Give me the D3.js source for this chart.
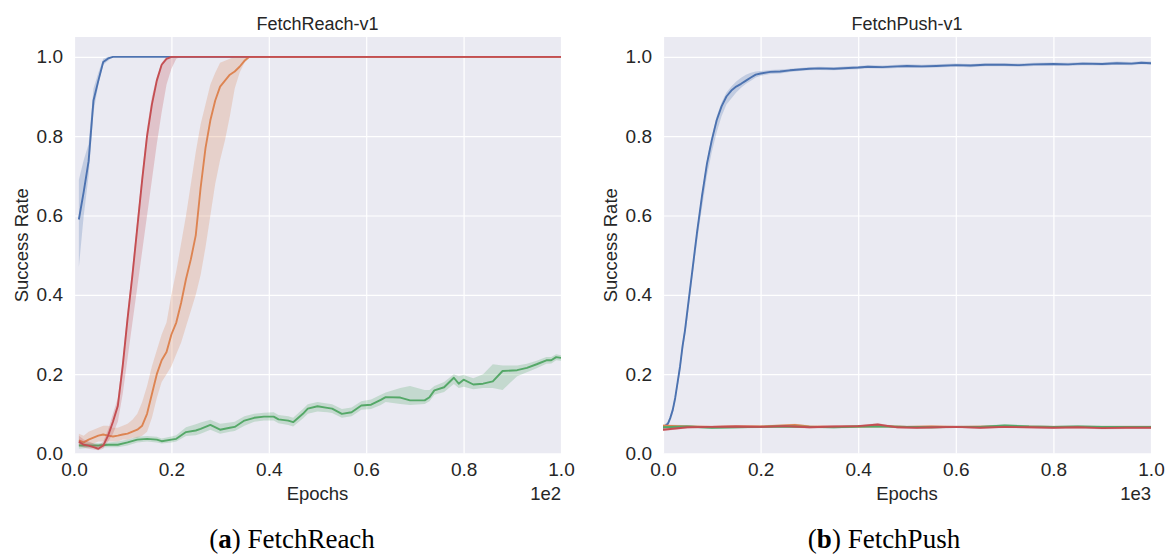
<!DOCTYPE html>
<html>
<head>
<meta charset="utf-8">
<script src="https://cdn.jsdelivr.net/npm/d3@7"></script>
<style>
  body { margin: 0; background: #fff; }
  text { font-family: "Liberation Sans", Arial, sans-serif; fill: #262626; }
</style>
</head>
<body>
<div id="chart"></div>
<script>
// rows are [epoch, mean, low, high]

// --- FetchReach-v1 (epochs, axis shown as x1e2) ---
const reachBlue = [
  [1, 0.59, 0.47, 0.69], [2, 0.66, 0.60, 0.74], [3, 0.737, 0.70, 0.78], [4, 0.89, 0.86, 0.92],
  [5, 0.94, 0.93, 0.96], [6, 0.987, 0.98, 0.995], [7, 0.996, 0.99, 1.0], [8, 1.0, 1.0, 1.0],
  [100, 1.0, 1.0, 1.0]
];
const reachOrange = [
  [1, 0.033, 0.02, 0.05], [2, 0.028, 0.02, 0.045], [3, 0.035, 0.02, 0.055], [4, 0.04, 0.025, 0.06],
  [5, 0.045, 0.03, 0.065], [6, 0.048, 0.03, 0.07], [7, 0.045, 0.03, 0.07], [8, 0.043, 0.03, 0.065],
  [9, 0.045, 0.03, 0.065], [10, 0.048, 0.035, 0.07], [11, 0.05, 0.035, 0.075], [12, 0.055, 0.04, 0.085],
  [13, 0.06, 0.04, 0.10], [14, 0.07, 0.045, 0.13], [15, 0.10, 0.055, 0.17], [16, 0.15, 0.09, 0.22],
  [17, 0.20, 0.14, 0.26], [18, 0.235, 0.18, 0.30], [19, 0.256, 0.20, 0.33], [20, 0.30, 0.22, 0.40],
  [21, 0.33, 0.25, 0.46], [22, 0.38, 0.28, 0.53], [23, 0.44, 0.32, 0.60], [24, 0.49, 0.36, 0.68],
  [25, 0.55, 0.40, 0.76], [26, 0.67, 0.45, 0.83], [27, 0.77, 0.52, 0.88], [28, 0.84, 0.60, 0.93],
  [29, 0.89, 0.68, 0.96], [30, 0.925, 0.74, 0.985], [31, 0.94, 0.79, 0.99], [32, 0.955, 0.85, 0.995],
  [33, 0.963, 0.92, 1.0], [34, 0.975, 0.96, 1.0], [35, 0.99, 0.985, 1.0], [36, 1.0, 0.998, 1.0],
  [37, 1.0, 1.0, 1.0], [100, 1.0, 1.0, 1.0]
];
const reachGreen = [
  [1, 0.02, 0.012, 0.028], [3, 0.02, 0.014, 0.027], [5, 0.02, 0.015, 0.026], [7, 0.022, 0.016, 0.028],
  [9, 0.022, 0.016, 0.03], [11, 0.028, 0.02, 0.035], [13, 0.035, 0.028, 0.042], [15, 0.037, 0.03, 0.044],
  [17, 0.035, 0.028, 0.042], [18, 0.031, 0.025, 0.038], [20, 0.035, 0.028, 0.043], [21, 0.037, 0.03, 0.046],
  [23, 0.054, 0.044, 0.066], [25, 0.058, 0.046, 0.074], [26, 0.062, 0.05, 0.078], [28, 0.072, 0.06, 0.085],
  [30, 0.06, 0.05, 0.075], [32, 0.065, 0.055, 0.078], [33, 0.067, 0.057, 0.08], [35, 0.083, 0.07, 0.094],
  [37, 0.09, 0.08, 0.10], [39, 0.093, 0.083, 0.103], [41, 0.093, 0.083, 0.104], [42, 0.086, 0.076, 0.097],
  [44, 0.083, 0.072, 0.094], [45, 0.079, 0.068, 0.09], [47, 0.10, 0.088, 0.112], [48, 0.113, 0.1, 0.124],
  [50, 0.119, 0.106, 0.13], [52, 0.115, 0.104, 0.126], [53, 0.113, 0.102, 0.124], [55, 0.10, 0.09, 0.112],
  [57, 0.104, 0.094, 0.116], [59, 0.121, 0.11, 0.132], [61, 0.123, 0.112, 0.136], [63, 0.135, 0.122, 0.148],
  [64, 0.142, 0.13, 0.154], [67, 0.141, 0.125, 0.165], [69, 0.134, 0.122, 0.17], [72, 0.134, 0.125, 0.16],
  [73, 0.142, 0.132, 0.16], [74, 0.159, 0.148, 0.17], [76, 0.167, 0.155, 0.18], [78, 0.191, 0.175, 0.2],
  [79, 0.176, 0.165, 0.195], [80, 0.186, 0.168, 0.198], [82, 0.174, 0.162, 0.19], [84, 0.176, 0.165, 0.2],
  [86, 0.182, 0.165, 0.225], [88, 0.208, 0.16, 0.222], [91, 0.21, 0.195, 0.222], [93, 0.216, 0.205, 0.226],
  [95, 0.225, 0.215, 0.234], [97, 0.235, 0.226, 0.243], [98, 0.235, 0.227, 0.243], [99, 0.243, 0.235, 0.25],
  [100, 0.241, 0.234, 0.248]
];
const reachRed = [
  [1, 0.03, 0.02, 0.045], [2, 0.022, 0.015, 0.035], [3, 0.02, 0.012, 0.03], [4, 0.016, 0.01, 0.025],
  [5, 0.012, 0.008, 0.02], [6, 0.02, 0.012, 0.03], [7, 0.045, 0.03, 0.06], [8, 0.08, 0.05, 0.10],
  [9, 0.12, 0.08, 0.14], [10, 0.22, 0.15, 0.24], [11, 0.34, 0.24, 0.36], [12, 0.45, 0.33, 0.47],
  [13, 0.57, 0.42, 0.59], [14, 0.69, 0.51, 0.71], [15, 0.80, 0.60, 0.82], [16, 0.88, 0.69, 0.90],
  [17, 0.94, 0.78, 0.95], [18, 0.98, 0.86, 0.985], [19, 0.995, 0.93, 1.0], [20, 1.0, 0.97, 1.0],
  [21, 1.0, 0.995, 1.0], [22, 1.0, 1.0, 1.0], [100, 1.0, 1.0, 1.0]
];

// --- FetchPush-v1 (epochs, axis shown as x1e3) ---
const pushBlue = [
  [0, 0.065, 0.06, 0.07], [5, 0.07, 0.065, 0.075], [10, 0.075, 0.07, 0.08], [15, 0.09, 0.082, 0.096],
  [20, 0.11, 0.10, 0.118], [25, 0.14, 0.13, 0.15], [30, 0.18, 0.168, 0.19], [35, 0.22, 0.205, 0.232],
  [40, 0.27, 0.255, 0.28], [45, 0.31, 0.295, 0.32], [50, 0.36, 0.34, 0.37], [55, 0.41, 0.39, 0.42],
  [60, 0.46, 0.44, 0.47], [65, 0.51, 0.49, 0.52], [70, 0.56, 0.535, 0.57], [75, 0.605, 0.58, 0.615],
  [80, 0.65, 0.62, 0.66], [85, 0.69, 0.66, 0.70], [90, 0.73, 0.70, 0.74], [95, 0.76, 0.73, 0.77],
  [100, 0.79, 0.76, 0.80], [110, 0.84, 0.81, 0.85], [120, 0.875, 0.85, 0.885], [130, 0.90, 0.88, 0.91],
  [140, 0.915, 0.895, 0.925], [150, 0.925, 0.91, 0.938], [160, 0.932, 0.922, 0.947], [170, 0.94, 0.932, 0.955],
  [180, 0.948, 0.94, 0.96], [190, 0.955, 0.948, 0.963], [200, 0.958, 0.952, 0.964], [220, 0.962, 0.957, 0.967],
  [240, 0.963, 0.958, 0.968], [260, 0.966, 0.962, 0.97], [280, 0.968, 0.964, 0.972], [300, 0.97, 0.966, 0.974],
  [320, 0.971, 0.967, 0.975], [350, 0.97, 0.966, 0.974], [380, 0.972, 0.968, 0.976], [400, 0.973, 0.969, 0.977],
  [420, 0.975, 0.971, 0.979], [450, 0.974, 0.97, 0.978], [480, 0.976, 0.972, 0.98], [500, 0.977, 0.973, 0.981],
  [530, 0.976, 0.972, 0.98], [560, 0.977, 0.973, 0.981], [600, 0.979, 0.975, 0.983], [630, 0.978, 0.974, 0.982],
  [660, 0.98, 0.976, 0.984], [700, 0.98, 0.976, 0.984], [730, 0.979, 0.975, 0.983], [760, 0.981, 0.977, 0.985],
  [800, 0.982, 0.978, 0.986], [830, 0.981, 0.977, 0.985], [860, 0.983, 0.979, 0.987], [900, 0.982, 0.978, 0.986],
  [930, 0.984, 0.98, 0.988], [960, 0.983, 0.979, 0.987], [980, 0.985, 0.981, 0.989], [1000, 0.984, 0.98, 0.988]
];
const pushOrange = [
  [0, 0.07, 0.066, 0.074], [50, 0.068, 0.065, 0.071], [100, 0.067, 0.064, 0.07], [150, 0.068, 0.065, 0.071],
  [200, 0.068, 0.065, 0.071], [270, 0.072, 0.068, 0.075], [300, 0.068, 0.065, 0.071], [350, 0.067, 0.064, 0.07],
  [400, 0.068, 0.065, 0.071], [450, 0.069, 0.066, 0.072], [500, 0.067, 0.064, 0.07], [550, 0.068, 0.065, 0.071],
  [600, 0.067, 0.064, 0.07], [700, 0.068, 0.065, 0.071], [800, 0.067, 0.064, 0.07], [900, 0.067, 0.064, 0.07],
  [1000, 0.067, 0.064, 0.07]
];
const pushGreen = [
  [0, 0.066, 0.063, 0.069], [50, 0.068, 0.065, 0.071], [100, 0.065, 0.062, 0.068], [150, 0.066, 0.063, 0.069],
  [200, 0.067, 0.064, 0.07], [250, 0.068, 0.065, 0.071], [300, 0.067, 0.064, 0.07], [350, 0.066, 0.063, 0.069],
  [400, 0.068, 0.065, 0.071], [450, 0.068, 0.065, 0.071], [500, 0.067, 0.064, 0.07], [550, 0.066, 0.063, 0.069],
  [600, 0.067, 0.064, 0.07], [650, 0.067, 0.064, 0.07], [700, 0.071, 0.068, 0.074], [750, 0.068, 0.065, 0.071],
  [800, 0.067, 0.064, 0.07], [850, 0.068, 0.065, 0.071], [900, 0.067, 0.064, 0.07], [950, 0.067, 0.064, 0.07],
  [1000, 0.067, 0.064, 0.07]
];
const pushRed = [
  [0, 0.06, 0.057, 0.063], [50, 0.066, 0.063, 0.069], [100, 0.067, 0.064, 0.07], [150, 0.068, 0.065, 0.071],
  [200, 0.067, 0.064, 0.07], [250, 0.069, 0.066, 0.072], [300, 0.066, 0.063, 0.069], [350, 0.068, 0.065, 0.071],
  [400, 0.069, 0.066, 0.072], [440, 0.073, 0.07, 0.076], [480, 0.066, 0.063, 0.069], [520, 0.065, 0.062, 0.068],
  [560, 0.066, 0.063, 0.069], [600, 0.067, 0.064, 0.07], [650, 0.065, 0.062, 0.068], [700, 0.067, 0.064, 0.07],
  [750, 0.066, 0.063, 0.069], [800, 0.065, 0.062, 0.068], [850, 0.066, 0.063, 0.069], [900, 0.064, 0.061, 0.067],
  [950, 0.065, 0.062, 0.068], [1000, 0.065, 0.062, 0.068]
];

const xTickLabels = [0, 0.2, 0.4, 0.6, 0.8, 1.0];
const yTicks = [0, 0.2, 0.4, 0.6, 0.8, 1.0];
const palette = ["#4C72B0", "#DD8452", "#55A868", "#C44E52"];

const panels = [
  { title: "FetchReach-v1", maxEpoch: 100, expo: "1e2", tag: "a", name: " FetchReach",
    left: 74, right: 561, capX: 292, series: [reachBlue, reachOrange, reachGreen, reachRed] },
  { title: "FetchPush-v1", maxEpoch: 1000, expo: "1e3", tag: "b", name: " FetchPush",
    left: 663, right: 1151, capX: 884, series: [pushBlue, pushOrange, pushGreen, pushRed] }
];

const width = 1171, height = 555;
const plotTop = 37, plotBottom = 453.5;

const svg = d3.select("#chart").append("svg")
  .attr("width", width)
  .attr("height", height);

const y = d3.scaleLinear().domain([0, 1.05]).range([plotBottom, plotTop]);

panels.forEach((p, pi) => {
  const x = d3.scaleLinear().domain([0, p.maxEpoch]).range([p.left, p.right]);
  const g = svg.append("g");

  g.append("rect")
    .attr("x", p.left).attr("y", plotTop)
    .attr("width", p.right - p.left).attr("height", plotBottom - plotTop)
    .attr("fill", "#EAEAF2");

  g.append("clipPath").attr("id", "clip" + pi)
    .append("rect")
    .attr("x", p.left).attr("y", plotTop)
    .attr("width", p.right - p.left).attr("height", plotBottom - plotTop);

  // grid
  const xTickVals = xTickLabels.map(t => t * p.maxEpoch);
  g.append("g")
    .attr("transform", `translate(0,${plotBottom})`)
    .call(d3.axisBottom(x).tickValues(xTickVals).tickSize(-(plotBottom - plotTop)).tickFormat(""))
    .call(a => a.select(".domain").remove())
    .call(a => a.selectAll("line").attr("stroke", "#fff").attr("stroke-width", 1.2));
  g.append("g")
    .attr("transform", `translate(${p.left},0)`)
    .call(d3.axisLeft(y).tickValues(yTicks).tickSize(-(p.right - p.left)).tickFormat(""))
    .call(a => a.select(".domain").remove())
    .call(a => a.selectAll("line").attr("stroke", "#fff").attr("stroke-width", 1.2));

  // tick labels
  g.append("g")
    .attr("transform", `translate(0,${plotBottom})`)
    .call(d3.axisBottom(x).tickValues(xTickVals).tickSize(0).tickPadding(9)
      .tickFormat(d => d3.format(".1f")(d / p.maxEpoch)))
    .call(a => a.select(".domain").remove())
    .call(a => a.selectAll("text").attr("font-size", 19)
      .attr("font-family", "Liberation Sans, Arial, sans-serif").attr("fill", "#262626"));
  g.append("g")
    .attr("transform", `translate(${p.left},0)`)
    .call(d3.axisLeft(y).tickValues(yTicks).tickSize(0).tickPadding(11).tickFormat(d3.format(".1f")))
    .call(a => a.select(".domain").remove())
    .call(a => a.selectAll("text").attr("font-size", 19)
      .attr("font-family", "Liberation Sans, Arial, sans-serif").attr("fill", "#262626"));

  // series
  const plot = g.append("g").attr("clip-path", `url(#clip${pi})`);
  const area = d3.area().x(d => x(d[0])).y0(d => y(d[2])).y1(d => y(d[3]));
  const line = d3.line().x(d => x(d[0])).y(d => y(d[1]));
  p.series.forEach((s, i) => {
    plot.append("path").datum(s)
      .attr("d", area)
      .attr("fill", palette[i])
      .attr("fill-opacity", 0.25);
    plot.append("path").datum(s)
      .attr("d", line)
      .attr("fill", "none")
      .attr("stroke", palette[i])
      .attr("stroke-width", 1.9)
      .attr("stroke-linejoin", "round");
  });

  const cx = (p.left + p.right) / 2;
  g.append("text")
    .attr("x", cx).attr("y", 30)
    .attr("text-anchor", "middle")
    .attr("font-size", 18)
    .text(p.title);

  g.append("text")
    .attr("x", cx).attr("y", 500)
    .attr("text-anchor", "middle")
    .attr("font-size", 18.5)
    .text("Epochs");

  g.append("text")
    .attr("x", p.right).attr("y", 500)
    .attr("text-anchor", "end")
    .attr("font-size", 18.5)
    .text(p.expo);

  g.append("text")
    .attr("transform", `translate(${p.left - 46},${(plotTop + plotBottom) / 2}) rotate(-90)`)
    .attr("text-anchor", "middle")
    .attr("font-size", 18.5)
    .text("Success Rate");

  const cap = g.append("text")
    .attr("x", p.capX).attr("y", 548)
    .attr("text-anchor", "middle")
    .attr("font-size", 27)
    .style("font-family", "'Liberation Serif', 'DejaVu Serif', serif")
    .style("fill", "#000");
  cap.append("tspan").text("(");
  cap.append("tspan").attr("font-weight", "bold").text(p.tag);
  cap.append("tspan").text(")" + p.name);
});
</script>
</body>
</html>
